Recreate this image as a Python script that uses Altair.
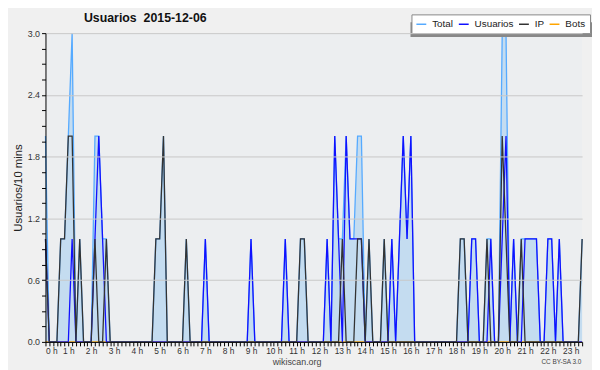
import altair as alt
import pandas as pd

# 10-minute slots, 0 .. 141 (00:00 .. 23:30)
slots = list(range(142))

usuarios = (
    [1, 0, 0, 0, 0, 0, 0, 1, 0, 0, 0, 0]
    + [0, 1, 2, 1, 0, 0, 0, 0, 0, 0, 0, 0]
    + [0, 0, 0, 0, 0, 0, 0, 0, 0, 0, 0, 0]
    + [0, 0, 0, 0, 0, 0, 1, 0, 0, 0, 0, 0]
    + [0, 0, 0, 0, 0, 0, 1, 0, 0, 0, 0, 0]
    + [0, 0, 0, 1, 0, 0, 0, 0, 0, 0, 0, 0]
    + [0, 0, 1, 0, 2, 1, 0, 2, 1, 1, 1, 1]
    + [0, 0, 0, 0, 0, 0, 0, 1, 0, 1, 2, 1]
    + [2, 0, 0, 0, 0, 0, 0, 0, 0, 0, 0, 0]
    + [0, 0, 0, 0, 1, 1, 0, 0, 0, 1, 0, 0]
    + [1, 2, 0, 1, 0, 0, 1, 1, 1, 1, 0, 0]
    + [1, 1, 0, 1, 0, 0, 0, 0, 0, 0]
)
ip = (
    [1, 0, 0, 0, 1, 1, 2, 2, 0, 1, 0, 0]
    + [0, 1, 0, 0, 1, 0, 0, 0, 0, 0, 0, 0]
    + [0, 0, 0, 0, 0, 1, 1, 2, 0, 0, 0, 0]
    + [0, 1, 0, 0, 0, 0, 0, 0, 0, 0, 0, 0]
    + [0, 0, 0, 0, 0, 0, 0, 0, 0, 0, 0, 0]
    + [0, 0, 0, 0, 0, 0, 0, 1, 1, 0, 0, 0]
    + [0, 0, 0, 0, 0, 0, 1, 0, 0, 0, 1, 1]
    + [0, 1, 0, 0, 0, 1, 0, 0, 0, 0, 0, 0]
    + [0, 0, 0, 0, 0, 0, 0, 0, 0, 0, 0, 0]
    + [0, 1, 1, 0, 0, 0, 0, 0, 1, 0, 0, 0]
    + [2, 1, 0, 0, 0, 1, 0, 0, 0, 0, 0, 0]
    + [0, 0, 0, 0, 0, 0, 0, 0, 0, 1]
)
total = (
    [2, 0, 0, 0, 1, 1, 2, 3, 0, 1, 0, 0]
    + [0, 2, 2, 1, 1, 0, 0, 0, 0, 0, 0, 0]
    + [0, 0, 0, 0, 0, 1, 1, 2, 0, 0, 0, 0]
    + [0, 1, 0, 0, 0, 0, 1, 0, 0, 0, 0, 0]
    + [0, 0, 0, 0, 0, 0, 1, 0, 0, 0, 0, 0]
    + [0, 0, 0, 1, 0, 0, 0, 1, 1, 0, 0, 0]
    + [0, 0, 1, 0, 2, 1, 1, 2, 1, 1, 2, 2]
    + [0, 1, 0, 0, 0, 1, 0, 1, 0, 1, 2, 1]
    + [2, 0, 0, 0, 0, 0, 0, 0, 0, 0, 0, 0]
    + [0, 1, 1, 0, 1, 1, 0, 0, 1, 1, 0, 0]
    + [3, 3, 0, 1, 0, 1, 1, 1, 1, 1, 0, 0]
    + [1, 1, 0, 1, 0, 0, 0, 0, 0, 1]
)
bots = [0] * 142

series_names = ["Total", "Usuarios", "IP", "Bots"]
series_colors = ["#55aaff", "#1010ff", "#333333", "#ffa500"]
y_ticks = [round(k * 0.15, 2) for k in range(21)]

df = pd.DataFrame({
    "slot": slots * 4,
    "value": total + usuarios + ip + bots,
    "series": ["Total"] * 142 + ["Usuarios"] * 142 + ["IP"] * 142 + ["Bots"] * 142,
})

FONT = "Liberation Sans"

x_enc = alt.X(
    "slot:Q",
    title=None,
    scale=alt.Scale(domain=[0, 141], nice=False, zero=False),
    axis=alt.Axis(
        values=slots,
        labelExpr="datum.value % 6 == 0 ? (datum.value / 6) + ' h' : ''",
        tickSize=4, tickColor="black", domainColor="black",
        labelFont=FONT, labelFontSize=8.5, labelColor="#333333",
        labelOverlap=False, labelPadding=1, grid=False, zindex=1,
    ),
)
y_enc = alt.Y(
    "value:Q",
    title="Usuarios/10 mins",
    scale=alt.Scale(domain=[0, 3], nice=False),
    axis=alt.Axis(
        values=y_ticks,
        labelExpr="abs(datum.value / 0.6 - round(datum.value / 0.6)) < 0.001 ? format(datum.value, '.1f') : ''",
        tickSize=4, tickColor="black", domainColor="black",
        labelFont=FONT, labelFontSize=9, labelColor="#333333", labelPadding=2,
        grid=True, gridColor="#c8c8c8",
        gridOpacity={"condition": {"test": "abs(datum.value / 0.6 - round(datum.value / 0.6)) < 0.001", "value": 1}, "value": 0},
        titleFont=FONT, titleFontSize=11.5, titleFontWeight="normal", titleColor="#222222",
        titlePadding=4, zindex=1,
    ),
)
color_enc = alt.Color(
    "series:N",
    title=None,
    scale=alt.Scale(domain=series_names, range=series_colors),
    legend=alt.Legend(
        orient="none", legendX=371, legendY=-19, direction="horizontal",
        fillColor="white", strokeColor="#888888", padding=4,
        symbolType="stroke", symbolSize=100, symbolStrokeWidth=1.5,
        labelFont=FONT, labelFontSize=10, labelColor="#222222",
        columnPadding=2, labelOffset=5,
    ),
)

base = alt.Chart(df)

area = base.transform_filter("datum.series == 'Total'").mark_area(
    color="#c4dcf0", opacity=1
).encode(x=x_enc, y=y_enc)

def line_layer(name):
    return base.transform_filter(f"datum.series == '{name}'").mark_line(
        strokeWidth=1.3
    ).encode(x=x_enc, y=y_enc, color=color_enc)

shadow = alt.Chart(pd.DataFrame({"a": [0]})).mark_rect(color="#888888").encode(
    x=alt.value(370), x2=alt.value(555), y=alt.value(-11), y2=alt.value(4)
)

title_txt = alt.Chart(pd.DataFrame({"t": ["Usuarios \u00a02015-12-06"]})).mark_text(
    font=FONT, fontSize=12.5, fontWeight="bold", color="#111111",
    align="left", baseline="alphabetic"
).encode(text="t:N", x=alt.value(39), y=alt.value(-11))

site = alt.Chart(pd.DataFrame({"t": ["wikiscan.org"]})).mark_text(
    font=FONT, fontSize=9, color="#444444"
).encode(text="t:N", x=alt.value(255), y=alt.value(333))

lic = alt.Chart(pd.DataFrame({"t": ["CC BY-SA 3.0"]})).mark_text(
    font=FONT, fontSize=6.5, color="#444444"
).encode(text="t:N", x=alt.value(523), y=alt.value(333))

chart = alt.layer(
    area,
    line_layer("Bots"),
    line_layer("Total"),
    line_layer("Usuarios"),
    line_layer("IP"),
    shadow,
    title_txt,
    site,
    lic,
).properties(
    width=544,
    height=313,
    padding={"left": 38, "top": 23, "right": 10, "bottom": 26},
    autosize=alt.AutoSizeParams(type="none"),
    background="#f0f0f0",
).configure_view(
    strokeWidth=0, fill="#eceef0"
)

chart.save("out.html", embed_options={"renderer": "svg", "actions": False})
